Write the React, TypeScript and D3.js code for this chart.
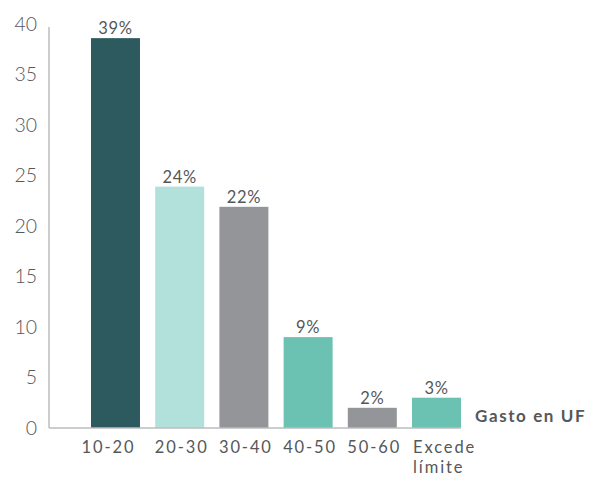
import React from "react";
import * as d3 from "d3";

const categories = ["10-20", "20-30", "30-40", "40-50", "50-60", "Excede límite"];
const values = [38.6, 23.9, 21.9, 9.0, 2.0, 3.0];
const valueLabels = ["39%", "24%", "22%", "9%", "2%", "3%"];
const barColors = ["#2d5a5f", "#b2e0da", "#939598", "#6cc2b2", "#939598", "#6cc2b2"];
const yTicks = [0, 5, 10, 15, 20, 25, 30, 35, 40];
const axisTitle = "Gasto en UF";

const W = 589;
const H = 477;
const font = "Lato, 'Open Sans', sans-serif";
const textColor = "#555759";

export default function App() {
  const x = d3
    .scaleBand<string>()
    .domain(categories)
    .range([49, 503])
    .paddingInner(0.237)
    .paddingOuter(0.654);
  const y = d3.scaleLinear().domain([0, 40]).range([428, 24]);

  return (
    <svg
      width={W}
      height={H}
      style={{ position: "absolute", left: 0, top: 0, background: "#fff" }}
    >
      <line x1={49} x2={49} y1={27} y2={y(0)} stroke="#bdbdbd" strokeWidth={1.5} />
      {yTicks.map((t) => (
        <text
          key={t}
          x={37}
          y={y(t)}
          dy="0.35em"
          textAnchor="end"
          fontFamily={font}
          fontSize={19.5}
          fontWeight={300}
          fill={textColor}
        >
          {t}
        </text>
      ))}
      {categories.map((c, i) => (
        <g key={c}>
          <rect
            x={x(c)}
            y={y(values[i])}
            width={x.bandwidth()}
            height={y(0) - y(values[i])}
            fill={barColors[i]}
          />
          <text
            x={(x(c) as number) + x.bandwidth() / 2}
            y={y(values[i]) - 4}
            textAnchor="middle"
            fontFamily={font}
            fontSize={16.5}
            fill={textColor}
            letterSpacing={0.7}
          >
            {valueLabels[i]}
          </text>
        </g>
      ))}
      <line
        x1={49}
        x2={(x(categories[5]) as number) + x.bandwidth()}
        y1={y(0)}
        y2={y(0)}
        stroke="#bdbdbd"
        strokeWidth={1.5}
      />
      {categories.map((c, i) => {
        const words = c.split(" ");
        const cx = (x(c) as number) + x.bandwidth() / 2 + (i === 0 ? -7 : 2);
        const lx = i === 5 ? (x(c) as number) + 1 : cx;
        return (
          <text
            key={"l" + c}
            x={lx}
            y={453}
            textAnchor={i === 5 ? "start" : "middle"}
            fontFamily={font}
            fontSize={16.5}
            fill={textColor}
            letterSpacing={1.9}
          >
            {words.map((w, j) => (
              <tspan key={j} x={lx} dy={j === 0 ? 0 : 20}>
                {w}
              </tspan>
            ))}
          </text>
        );
      })}
      <text
        x={475}
        y={422}
        fontFamily={font}
        fontSize={17}
        fontWeight={700}
        fill={textColor}
        letterSpacing={1.6}
      >
        {axisTitle}
      </text>
    </svg>
  );
}
